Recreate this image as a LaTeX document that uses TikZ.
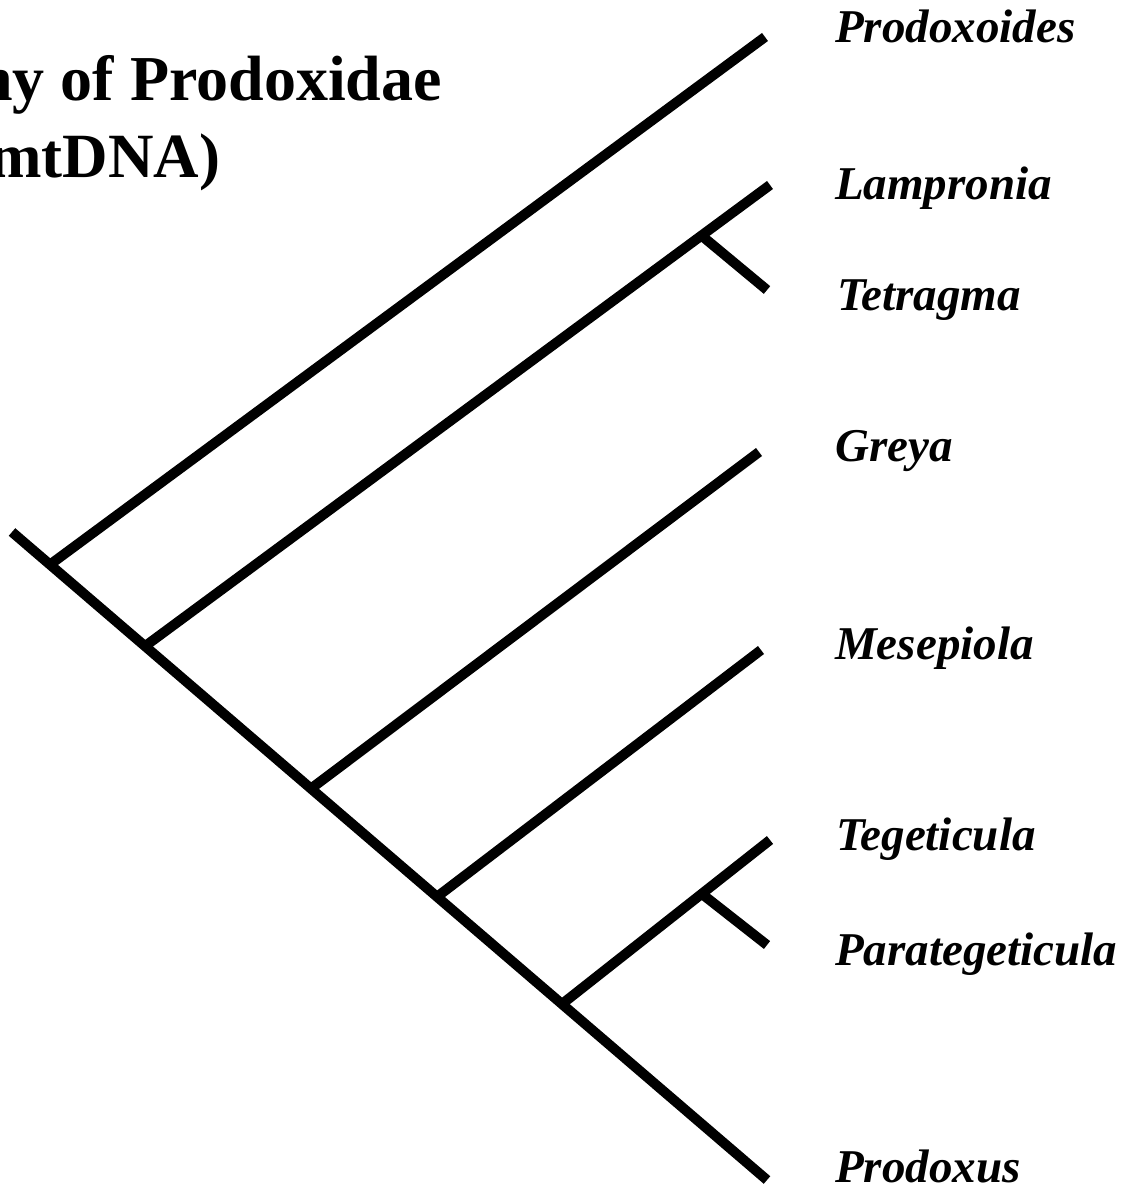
\documentclass[tikz,border=0pt]{standalone}
\usepackage{fontspec}
\setmainfont{Liberation Serif}
\begin{document}
\begin{tikzpicture}[x=1pt,y=-1pt,
  branch/.style={line width=10pt, line cap=butt, black},
  taxon/.style={font=\fontsize{47}{47}\selectfont\bfseries\itshape, anchor=base west, inner sep=0pt},
  titleone/.style={font=\fontsize{64}{64}\selectfont\bfseries, anchor=base west, inner sep=0pt},
  titletwo/.style={font=\fontsize{63}{63}\selectfont\bfseries, anchor=base west, inner sep=0pt}]
\useasboundingbox (0,0) rectangle (1128,1198);
% title (cut at the left edge, as in the reference)
\node[titleone] (t1) at (-23,101) {ny of Prodoxidae};
\node[titletwo] (t2) at (-11,178) {mtDNA)};
% backbone and junctions
\coordinate (root) at (12,532);
\coordinate (jA) at (50,564.6);
\coordinate (jB) at (145,646.2);
\coordinate (jC) at (311,788.6);
\coordinate (jD) at (437,896.8);
\coordinate (jE) at (562,1004);
\coordinate (tProdoxus) at (767,1180);
% tips
\coordinate (tProdoxoides) at (765,37);
\coordinate (tLampronia) at (770,185);
\coordinate (sB) at (702,236);
\coordinate (tTetragma) at (767,290);
\coordinate (tGreya) at (759,452);
\coordinate (tMesepiola) at (761,650);
\coordinate (tTegeticula) at (770,840);
\coordinate (sE) at (702,894);
\coordinate (tParategeticula) at (767,945);
% branches
\draw[branch] (root) -- (tProdoxus);
\draw[branch] (jA) -- (tProdoxoides);
\draw[branch] (jB) -- (tLampronia);
\draw[branch] (sB) -- (tTetragma);
\draw[branch] (jC) -- (tGreya);
\draw[branch] (jD) -- (tMesepiola);
\draw[branch] (jE) -- (tTegeticula);
\draw[branch] (sE) -- (tParategeticula);
% labels
\node[taxon] (lProdoxoides) at (835,43) {Prodoxoides};
\node[taxon] (lLampronia) at (835,200) {Lampronia};
\node[taxon] (lTetragma) at (837,310) {Tetragma};
\node[taxon] (lGreya) at (835,461) {Greya};
\node[taxon] (lMesepiola) at (835,659) {Mesepiola};
\node[taxon] (lTegeticula) at (836,850) {Tegeticula};
\node[taxon] (lParategeticula) at (835,965) {Parategeticula};
\node[taxon] (lProdoxus) at (835,1182) {Prodoxus};
\end{tikzpicture}
\end{document}
